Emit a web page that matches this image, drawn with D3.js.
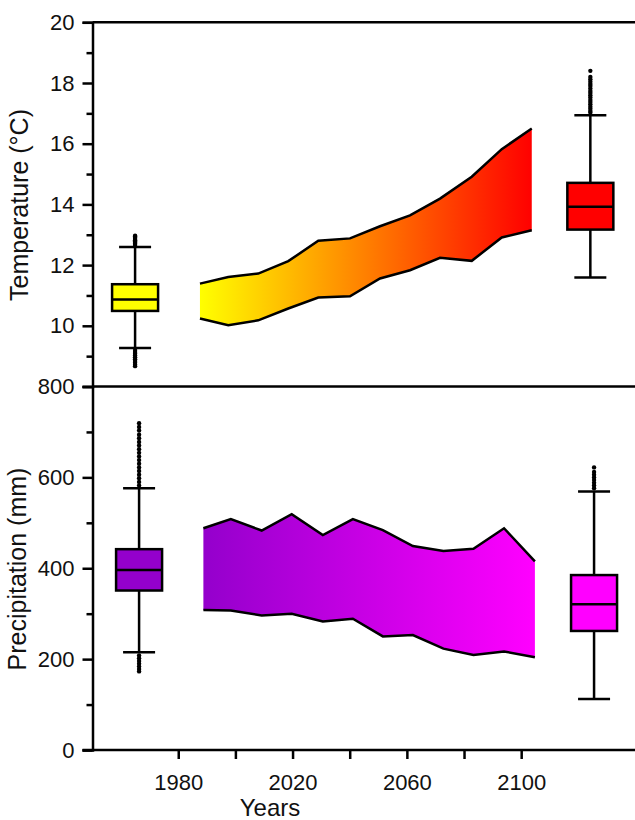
<!DOCTYPE html>
<html>
<head>
<meta charset="utf-8">
<script src="https://cdn.jsdelivr.net/npm/d3@7"></script>
<style>
  body { margin: 0; background: #fff; }
  svg text { font-family: "Liberation Sans", Arial, sans-serif; fill: #111; }
</style>
</head>
<body>
<div id="chart"></div>
<script>
// temperature panel
const tempBandYears = [1987.6, 1997.5, 2008, 2018.5, 2029, 2040.1, 2050.6, 2061.1, 2071.6, 2082.7, 2093.2, 2103.7]
const tempBandUpper = [11.39, 11.61, 11.72, 12.13, 12.80, 12.88, 13.28, 13.64, 14.19, 14.91, 15.82, 16.50]
const tempBandLower = [10.24, 10.02, 10.18, 10.57, 10.93, 10.97, 11.56, 11.83, 12.24, 12.14, 12.91, 13.15]
const tempBoxYears = [1964.9, 2124.2]
const tempBoxStats = [
  { low: 9.27, q1: 10.49, med: 10.87, q3: 11.37, high: 12.6 },
  { low: 11.59, q1: 13.17, med: 13.92, q3: 14.71, high: 16.94 }
]
const tempOutliers = [
  [12.66, 12.7, 12.74, 12.78, 12.82, 12.86, 12.9, 12.94, 12.97, 9.2, 9.14, 9.08, 9.02, 8.96, 8.9, 8.84, 8.78, 8.72, 8.67],
  [17.02, 17.08, 17.15, 17.22, 17.3, 17.37, 17.44, 17.52, 17.6, 17.67, 17.74, 17.82, 17.9, 17.97, 18.04, 18.12, 18.2, 18.4]
]
const tempColors = ["#ffff00", "#ff0000"]
const tempTicks = [10, 12, 14, 16, 18, 20]
const tempMinor = [9, 11, 13, 15, 17, 19]

// precipitation panel
const precipBandYears = [1988.8, 1998.4, 2009.2, 2019.7, 2030.6, 2041.1, 2051.6, 2062.1, 2072.8, 2083.3, 2094, 2104.8]
const precipBandUpper = [488, 508, 483, 519, 473, 508, 484, 449, 438, 443, 488, 415]
const precipBandLower = [308, 307, 296, 300, 283, 289, 250, 253, 223, 209, 217, 204]
const precipBoxYears = [1966.3, 2125.5]
const precipBoxStats = [
  { low: 215, q1: 351, med: 396, q3: 442, high: 576 },
  { low: 112, q1: 262, med: 321, q3: 385, high: 569 }
]
const precipOutliers = [
  [582, 590, 598, 606, 614, 622, 630, 638, 646, 654, 662, 670, 678, 686, 694, 703, 711, 719, 208, 202, 196, 190, 184, 178, 173],
  [576, 582, 588, 594, 600, 606, 612, 622]
]
const precipColors = ["#9400cc", "#ff00ff"]
const precipTicks = [0, 200, 400, 600, 800]
const precipMinor = [100, 300, 500, 700]

const yearTicks = [1980, 2000, 2020, 2040, 2060, 2080, 2100]
const yearLabels = [1980, 2020, 2060, 2100]

const WIDTH = 635, HEIGHT = 820
const LEFT = 92.5

const svg = d3.select("#chart").append("svg")
  .attr("width", WIDTH)
  .attr("height", HEIGHT)

const defs = svg.append("defs")

const x = d3.scaleLinear().domain([1950, 2140]).range([LEFT, 635.5])

function drawPanel(opts) {
  const y = d3.scaleLinear().domain(opts.domain).range(opts.range)
  const g = svg.append("g")

  // gradient band
  const gradId = opts.id + "-grad"
  const grad = defs.append("linearGradient")
    .attr("id", gradId)
    .attr("gradientUnits", "userSpaceOnUse")
    .attr("x1", x(opts.bandYears[0])).attr("x2", x(opts.bandYears[opts.bandYears.length - 1]))
    .attr("y1", 0).attr("y2", 0)
  grad.append("stop").attr("offset", 0).attr("stop-color", opts.colors[0])
  grad.append("stop").attr("offset", 1).attr("stop-color", opts.colors[1])

  const band = opts.bandYears.map((yr, i) => ({ yr, hi: opts.upper[i], lo: opts.lower[i] }))

  g.append("path")
    .datum(band)
    .attr("fill", `url(#${gradId})`)
    .attr("d", d3.area().x(d => x(d.yr)).y0(d => y(d.lo)).y1(d => y(d.hi)))

  const line = d3.line().x(d => x(d.yr))
  g.append("path").datum(band)
    .attr("fill", "none").attr("stroke", "#000").attr("stroke-width", 2.5)
    .attr("d", line.y(d => y(d.hi)))
  g.append("path").datum(band)
    .attr("fill", "none").attr("stroke", "#000").attr("stroke-width", 2.5)
    .attr("d", line.y(d => y(d.lo)))

  // box plots
  const BOX_W = 46, CAP_W = 32
  opts.boxYears.forEach((yr, i) => {
    const s = opts.stats[i]
    const cx = x(yr)
    const bg = g.append("g")
    bg.append("line")
      .attr("x1", cx).attr("x2", cx).attr("y1", y(s.high)).attr("y2", y(s.low))
      .attr("stroke", "#000").attr("stroke-width", 2.5)
    bg.selectAll("line.cap")
      .data([s.high, s.low])
      .enter().append("line")
      .attr("class", "cap")
      .attr("x1", cx - CAP_W / 2).attr("x2", cx + CAP_W / 2)
      .attr("y1", d => y(d)).attr("y2", d => y(d))
      .attr("stroke", "#000").attr("stroke-width", 2.5)
    bg.selectAll("circle")
      .data(opts.outliers[i])
      .enter().append("circle")
      .attr("cx", cx).attr("cy", d => y(d)).attr("r", 2.2)
      .attr("fill", "#000")
    bg.append("rect")
      .attr("x", cx - BOX_W / 2).attr("width", BOX_W)
      .attr("y", y(s.q3)).attr("height", y(s.q1) - y(s.q3))
      .attr("fill", opts.colors[i]).attr("stroke", "#000").attr("stroke-width", 2.5)
    bg.append("line")
      .attr("x1", cx - BOX_W / 2).attr("x2", cx + BOX_W / 2)
      .attr("y1", y(s.med)).attr("y2", y(s.med))
      .attr("stroke", "#000").attr("stroke-width", 2.5)
  })

  // left axis
  const axis = svg.append("g").attr("transform", `translate(${LEFT},0)`)
  axis.call(d3.axisLeft(y).tickValues(opts.ticks).tickSize(10).tickPadding(8).tickFormat(d3.format("d")))
  axis.select(".domain").attr("stroke-width", 2.5)
  axis.selectAll(".tick line").attr("stroke-width", 2.5)
  axis.selectAll(".tick text").attr("font-size", 22).attr("fill", "#111")
  const minor = svg.append("g").attr("transform", `translate(${LEFT},0)`)
  minor.call(d3.axisLeft(y).tickValues(opts.minor).tickSize(6).tickFormat(""))
  minor.select(".domain").remove()
  minor.selectAll(".tick line").attr("stroke-width", 2.5)

  // panel frame line at top
  svg.append("line")
    .attr("x1", LEFT).attr("x2", WIDTH)
    .attr("y1", y(opts.domain[1])).attr("y2", y(opts.domain[1]))
    .attr("stroke", "#000").attr("stroke-width", 2.5)

  svg.append("text")
    .attr("transform", `translate(${opts.titleX},${opts.titleY}) rotate(-90)`)
    .attr("text-anchor", "middle")
    .attr("font-size", 25)
    .text(opts.title)

  return y
}

drawPanel({
  id: "temp", domain: [8, 20], range: [386.5, 22.3],
  bandYears: tempBandYears, upper: tempBandUpper, lower: tempBandLower,
  boxYears: tempBoxYears, stats: tempBoxStats, outliers: tempOutliers,
  colors: tempColors, ticks: tempTicks, minor: tempMinor,
  title: "Temperature (°C)", titleX: 28, titleY: 205
})

drawPanel({
  id: "precip", domain: [0, 800], range: [750, 386.5],
  bandYears: precipBandYears, upper: precipBandUpper, lower: precipBandLower,
  boxYears: precipBoxYears, stats: precipBoxStats, outliers: precipOutliers,
  colors: precipColors, ticks: precipTicks, minor: precipMinor,
  title: "Precipitation (mm)", titleX: 26, titleY: 569
})

// bottom axis
const xAxis = svg.append("g").attr("transform", "translate(0,750)")
xAxis.call(d3.axisBottom(x).tickValues(yearTicks).tickSize(9).tickPadding(15)
  .tickFormat(d => yearLabels.includes(d) ? d : ""))
xAxis.select(".domain").remove()
xAxis.selectAll(".tick line").attr("stroke-width", 2.5)
xAxis.selectAll(".tick text").attr("font-size", 22).attr("fill", "#111")
svg.append("line")
  .attr("x1", LEFT - 10).attr("x2", WIDTH)
  .attr("y1", 750).attr("y2", 750)
  .attr("stroke", "#000").attr("stroke-width", 2.5)

svg.append("text")
  .attr("x", 270).attr("y", 816)
  .attr("text-anchor", "middle")
  .attr("font-size", 24)
  .text("Years")
</script>
</body>
</html>
